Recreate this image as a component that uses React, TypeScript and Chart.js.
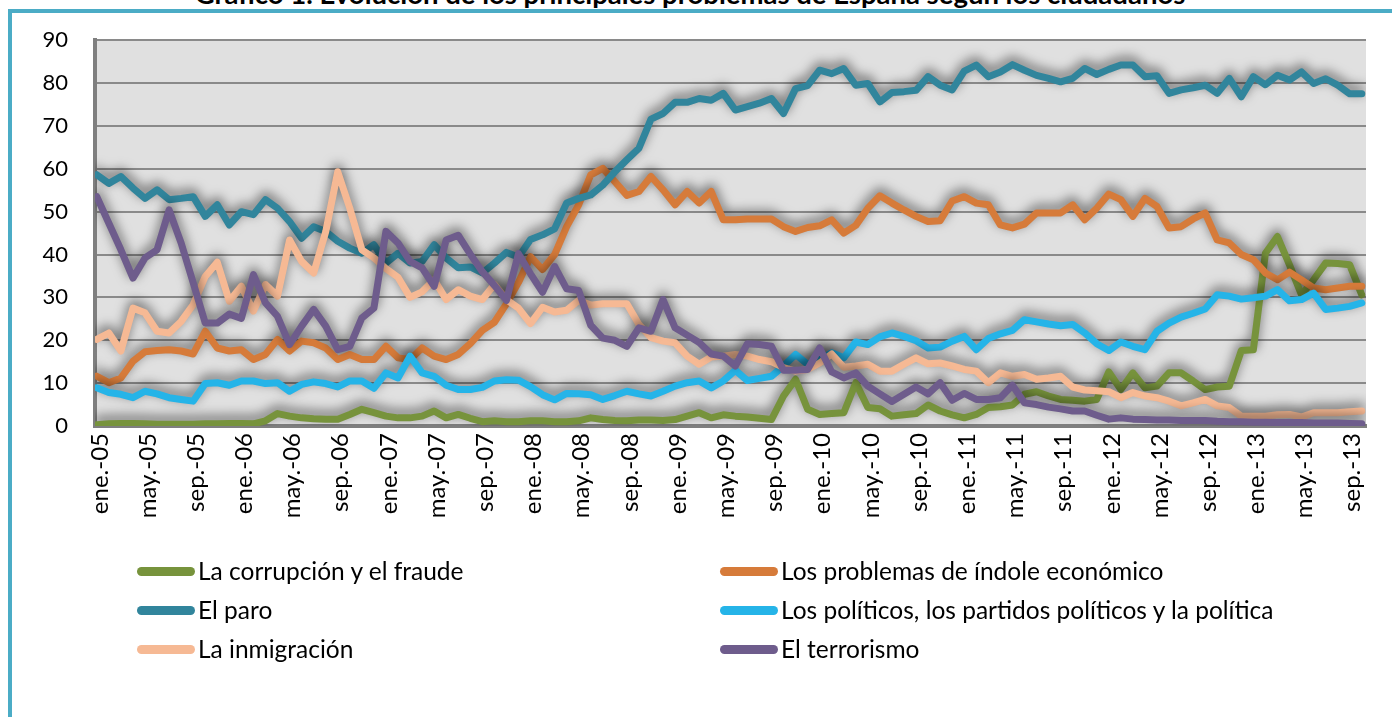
import React, { useEffect, useRef } from 'react';
import { Chart, registerables } from 'chart.js';

Chart.register(...registerables);

const W = 1392;
const H = 717;

const titleText = 'Gráfico 1. Evolución de los principales problemas de España según los ciudadanos';

// Shown axis labels (one every 4 months, ene.-05 … sep.-13)
const tickLabels = [
  'ene.-05', 'may.-05', 'sep.-05', 'ene.-06', 'may.-06', 'sep.-06', 'ene.-07', 'may.-07', 'sep.-07',
  'ene.-08', 'may.-08', 'sep.-08', 'ene.-09', 'may.-09', 'sep.-09', 'ene.-10', 'may.-10', 'sep.-10',
  'ene.-11', 'may.-11', 'sep.-11', 'ene.-12', 'may.-12', 'sep.-12', 'ene.-13', 'may.-13', 'sep.-13',
];
const monthsPerLabel = 4;

const yTicks = [0, 10, 20, 30, 40, 50, 60, 70, 80, 90];

// Monthly values, ene.-05 … oct.-13 (106 months)
const corrupcion = [
  0.3, 0.5, 0.6, 0.6, 0.5, 0.4, 0.4, 0.4, 0.4, 0.5, 0.5, 0.6,
  0.6, 0.5, 1.2, 2.9, 2.3, 1.9, 1.7, 1.6, 1.6, 2.7, 3.9, 3.1,
  2.3, 1.9, 1.9, 2.3, 3.5, 1.9, 2.7, 1.8, 1.0, 1.2, 1.0, 1.0,
  1.2, 1.2, 1.0, 1.0, 1.2, 1.9, 1.5, 1.3, 1.2, 1.4, 1.4, 1.3,
  1.5, 2.3, 3.1, 1.9, 2.6, 2.3, 2.1, 1.8, 1.5, 7.0, 10.9, 3.9,
  2.7, 2.9, 3.1, 10.1, 4.3, 4.0, 2.3, 2.6, 2.9, 4.9, 3.5, 2.6,
  1.9, 2.7, 4.3, 4.5, 4.9, 7.4, 8.0, 7.0, 6.2, 6.0, 5.8, 6.2,
  12.6, 8.5, 12.4, 8.9, 9.3, 12.4, 12.4, 10.5, 8.5, 9.1, 9.3, 17.6,
  17.8, 40.3, 44.2, 37.6, 30.6, 34.1, 38.0, 37.9, 37.6, 30.6,
];

const economico = [
  11.6, 10.1, 11.2, 15.1, 17.3, 17.6, 17.8, 17.5, 16.8, 22.1, 18.2, 17.5,
  17.8, 15.5, 16.7, 20.2, 17.5, 19.8, 19.4, 18.2, 15.5, 16.7, 15.5, 15.5,
  18.6, 15.9, 15.5, 18.2, 16.3, 15.5, 16.7, 19.2, 22.3, 24.2, 28.5, 33.5,
  39.5, 36.5, 40.0, 46.5, 51.6, 58.6, 60.1, 57.0, 53.8, 54.7, 58.2, 55.1,
  51.6, 54.7, 52.0, 54.7, 48.1, 48.1, 48.3, 48.3, 48.3, 46.5, 45.4, 46.3,
  46.7, 48.1, 45.0, 46.8, 50.8, 53.7, 52.0, 50.4, 48.9, 47.7, 47.9, 52.5,
  53.5, 52.0, 51.6, 46.9, 46.2, 47.1, 49.7, 49.7, 49.7, 51.6, 48.1, 50.8,
  54.1, 52.8, 48.9, 53.1, 51.2, 46.2, 46.5, 48.3, 49.7, 43.4, 42.7, 40.0,
  38.8, 35.7, 34.1, 35.9, 34.1, 32.2, 31.8, 32.2, 32.6, 32.6,
];

const paro = [
  58.6, 56.6, 58.2, 55.5, 53.1, 55.1, 52.8, 53.1, 53.5, 48.9, 51.6, 46.9,
  50.0, 49.3, 52.8, 50.8, 47.7, 43.8, 46.5, 45.4, 43.1, 41.5, 40.3, 42.3,
  38.0, 40.3, 38.0, 38.4, 42.3, 39.2, 36.9, 37.1, 35.7, 38.0, 40.5, 39.4,
  43.5, 44.6, 46.0, 52.0, 53.1, 53.9, 56.2, 59.3, 62.1, 64.8, 71.6, 72.9,
  75.5, 75.5, 76.4, 76.0, 77.6, 73.7, 74.5, 75.3, 76.4, 72.9, 78.7, 79.4,
  83.0, 82.2, 83.4, 79.5, 79.9, 75.6, 77.8, 78.0, 78.3, 81.5, 79.5, 78.4,
  82.8, 84.2, 81.5, 82.6, 84.3, 83.0, 81.8, 81.1, 80.3, 81.1, 83.4, 82.0,
  83.2, 84.2, 84.2, 81.5, 81.7, 77.6, 78.4, 78.9, 79.5, 77.6, 81.1, 76.8,
  81.5, 79.6, 81.8, 80.7, 82.6, 79.9, 81.0, 79.5, 77.5, 77.5,
];

const politicos = [
  8.9, 7.8, 7.4, 6.6, 8.1, 7.5, 6.6, 6.2, 5.8, 9.9, 10.1, 9.5,
  10.5, 10.5, 9.9, 10.1, 8.1, 9.7, 10.3, 9.9, 9.1, 10.5, 10.5, 8.8,
  12.4, 11.2, 16.3, 12.4, 11.6, 9.5, 8.5, 8.5, 9.0, 10.5, 10.8, 10.7,
  9.2, 7.3, 6.1, 7.6, 7.5, 7.3, 6.2, 7.1, 8.1, 7.5, 7.0, 8.1,
  9.3, 10.1, 10.5, 8.9, 10.5, 13.0, 10.6, 11.1, 11.6, 14.0, 16.7, 14.4,
  15.5, 17.1, 15.9, 19.6, 19.0, 20.8, 21.7, 20.9, 19.9, 18.2, 18.4, 19.8,
  20.9, 17.8, 20.4, 21.5, 22.3, 24.8, 24.3, 23.8, 23.4, 23.7, 21.7, 19.2,
  17.6, 19.6, 18.6, 17.8, 22.1, 24.0, 25.4, 26.3, 27.3, 30.6, 30.3, 29.6,
  29.9, 30.3, 31.8, 29.2, 29.5, 31.0, 27.2, 27.5, 27.9, 28.7,
];

const inmigracion = [
  20.2, 21.7, 17.5, 27.5, 26.4, 22.1, 21.7, 24.4, 28.3, 34.9, 38.2, 29.1,
  32.6, 26.8, 33.0, 30.3, 43.4, 38.4, 35.7, 45.3, 59.3, 50.8, 41.1, 39.2,
  36.7, 34.7, 30.0, 31.3, 34.1, 29.5, 31.8, 30.3, 29.5, 33.0, 29.5, 27.5,
  23.9, 27.7, 26.6, 27.0, 29.3, 28.2, 28.5, 28.5, 28.5, 23.7, 20.6, 19.8,
  19.4, 16.3, 14.4, 16.1, 16.3, 16.7, 16.3, 15.5, 15.0, 13.6, 12.8, 13.2,
  14.7, 16.8, 13.7, 14.0, 14.4, 12.8, 12.8, 14.4, 15.9, 14.5, 14.7, 14.0,
  13.2, 12.8, 10.1, 12.4, 11.6, 12.0, 10.9, 11.2, 11.6, 9.1, 8.4, 8.2,
  8.0, 6.6, 7.8, 7.0, 6.6, 5.8, 4.7, 5.4, 6.2, 4.7, 4.3, 2.3,
  2.3, 2.3, 2.6, 2.7, 2.1, 3.1, 3.1, 3.1, 3.3, 3.5,
];

const terrorismo = [
  53.5, 47.3, 41.1, 34.5, 39.2, 41.1, 50.4, 42.7, 33.4, 24.0, 24.0, 26.1,
  25.1, 35.3, 28.7, 25.6, 19.0, 23.3, 27.2, 23.3, 17.8, 18.6, 25.2, 27.5,
  45.4, 42.7, 38.4, 36.9, 32.6, 43.4, 44.5, 40.1, 36.0, 32.8, 29.3, 40.2,
  35.5, 31.2, 37.2, 32.0, 31.6, 23.5, 20.5, 20.0, 18.6, 22.9, 22.1, 29.5,
  22.9, 21.2, 19.5, 16.8, 16.3, 14.0, 19.2, 19.0, 18.6, 13.0, 13.0, 13.2,
  18.2, 12.6, 11.2, 12.4, 9.3, 7.5, 5.7, 7.4, 9.1, 7.5, 10.1, 6.0,
  7.6, 6.2, 6.2, 6.6, 9.5, 5.4, 5.0, 4.4, 4.0, 3.5, 3.5, 2.5,
  1.6, 1.9, 1.6, 1.5, 1.4, 1.4, 1.3, 1.3, 1.3, 1.1, 1.0, 1.0,
  0.9, 0.9, 0.8, 0.8, 0.8, 0.7, 0.7, 0.7, 0.6, 0.5,
];

const seriesNames = [
  'La corrupción y el fraude',
  'Los problemas de índole económico',
  'El paro',
  'Los políticos, los partidos políticos y la política',
  'La inmigración',
  'El terrorismo',
];
const seriesValues = [corrupcion, economico, paro, politicos, inmigracion, terrorismo];
const seriesColors = ['#77933C', '#D67B3A', '#31859C', '#25B4E8', '#F6B994', '#6E5C8C'];

const FONT = 'Lato, "Open Sans", sans-serif';

export default function App() {
  const ref = useRef<HTMLCanvasElement>(null);

  useEffect(() => {
    if (!ref.current) return;
    const bgPlugin = {
      id: 'plotBg',
      beforeDraw(chart: any) {
        const { ctx, chartArea: a } = chart;
        ctx.save();
        ctx.fillStyle = '#e0e0e0';
        ctx.fillRect(a.left, a.top, a.right - a.left, a.bottom - a.top);
        ctx.restore();
      },
    };
    const shadowPlugin = {
      id: 'lineShadow',
      beforeDatasetDraw(chart: any) {
        const c = chart.ctx;
        c.save();
        c.shadowColor = 'rgba(0,0,0,0.6)';
        c.shadowBlur = 12;
        c.shadowOffsetX = 0;
        c.shadowOffsetY = -4;
      },
      afterDatasetDraw(chart: any) {
        chart.ctx.restore();
      },
    };

    const n = seriesValues.length;
    const chart = new Chart(ref.current, {
      type: 'line',
      data: {
        datasets: seriesValues.map((vals, k) => ({
          label: seriesNames[k],
          data: vals.map((v, i) => ({ x: i, y: v })),
          borderColor: seriesColors[k],
          backgroundColor: seriesColors[k],
          borderWidth: 7,
          pointRadius: 0,
          fill: false,
          tension: 0,
          borderJoinStyle: 'round',
          borderCapStyle: 'round',
          order: n - k,
        })),
      },
      options: {
        animation: false,
        responsive: false,
        layout: { padding: { top: 39, right: 26, left: 0, bottom: 0 } },
        plugins: {
          legend: { display: false },
          tooltip: { enabled: false },
          title: { display: false },
        },
        scales: {
          x: {
            type: 'linear',
            min: -0.15,
            max: 105.35,
            afterBuildTicks: (axis: any) => {
              axis.ticks = tickLabels.map((_, j) => ({ value: j * monthsPerLabel }));
            },
            afterFit: (s: any) => {
              s.height = H - 426;
            },
            grid: { display: false, drawTicks: false },
            border: { display: true, color: '#7f7f7f', width: 4 },
            ticks: {
              autoSkip: false,
              maxRotation: 90,
              minRotation: 90,
              padding: 7,
              labelOffset: 3,
              color: '#000',
              font: { family: FONT, size: 24 },
              callback: (v: any) => tickLabels[Math.round(Number(v) / monthsPerLabel)],
            },
          },
          y: {
            min: 0,
            max: 90,
            afterBuildTicks: (axis: any) => {
              axis.ticks = yTicks.map((v) => ({ value: v }));
            },
            afterFit: (s: any) => {
              s.width = 95;
            },
            grid: { color: '#8a8a8a', lineWidth: 2, drawTicks: false },
            border: { display: true, color: '#7f7f7f', width: 4 },
            ticks: {
              padding: 27,
              color: '#000',
              font: { family: FONT, size: 22 },
            },
          },
        },
      },
      plugins: [bgPlugin, shadowPlugin],
    } as any);
    return () => chart.destroy();
  }, []);

  const rowY = [571, 610, 649];
  const colMarkerX = [137, 720];
  const colTextX = [198, 781];

  return (
    <div
      style={{
        position: 'absolute',
        left: 0,
        top: 0,
        width: W,
        height: H,
        overflow: 'hidden',
        background: '#fff',
        fontFamily: FONT,
      }}
    >
      <div
        style={{
          position: 'absolute',
          left: 8,
          top: 9,
          width: 1500,
          height: 900,
          border: '4px solid #4BACC6',
          boxSizing: 'border-box',
        }}
      />
      <div
        style={{
          position: 'absolute',
          left: 0,
          width: 1380,
          top: -20,
          textAlign: 'center',
          fontWeight: 700,
          fontSize: 27.5,
          lineHeight: '27.5px',
          color: '#000',
          whiteSpace: 'nowrap',
        }}
      >
        {titleText}
      </div>
      <canvas ref={ref} width={W} height={H} style={{ position: 'absolute', left: 0, top: 0, width: W, height: H }} />
      {seriesNames.map((name, k) => {
        const col = k % 2;
        const y = rowY[Math.floor(k / 2)];
        return (
          <React.Fragment key={name}>
            <div
              style={{
                position: 'absolute',
                left: colMarkerX[col],
                top: y - 4.5,
                width: 58,
                height: 9,
                borderRadius: 5,
                background: seriesColors[k],
              }}
            />
            <div
              style={{
                position: 'absolute',
                left: colTextX[col],
                top: y - 15,
                fontSize: 24.5,
                lineHeight: '30px',
                color: '#000',
                whiteSpace: 'nowrap',
              }}
            >
              {name}
            </div>
          </React.Fragment>
        );
      })}
    </div>
  );
}
